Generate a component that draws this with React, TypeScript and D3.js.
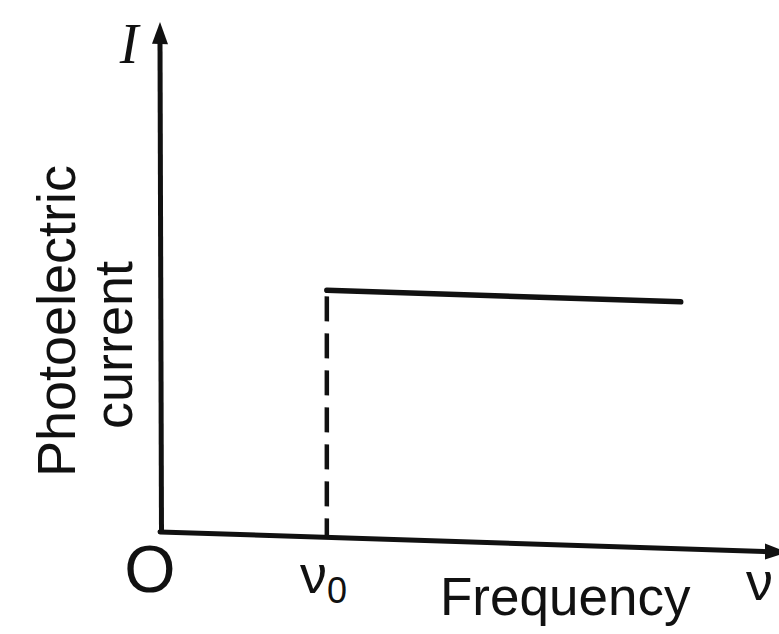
import React from "react";
import * as d3 from "d3";

// Data (arbitrary units)
const thresholdFrequency = [1.0];          // ν0
const plateauFrequency = [1.0, 3.16];      // start and end of the saturated current
const plateauCurrent = [1.0, 1.0];
const xAxisMax = [3.76];
const yAxisMax = [2.08];
const axisLabels = ["O", "ν", "Frequency", "I"];

const W = 779;
const H = 634;
const ox = 163;
const oy = 532;
const skewDeg = 1.86;

export default function App() {
  const x = d3.scaleLinear().domain([0, xAxisMax[0]]).range([0, 616]);
  const y = d3.scaleLinear().domain([0, yAxisMax[0]]).range([0, -510]);
  const yCur = d3.scaleLinear().domain([0, 1]).range([0, -247]);

  const line = d3
    .line<[number, number]>()
    .x((d) => x(d[0]))
    .y((d) => yCur(d[1]));
  const plateau = line(plateauFrequency.map((f, i) => [f, plateauCurrent[i]]));
  const nu0 = thresholdFrequency[0];
  const xEnd = x(xAxisMax[0]);
  const yTop = y(yAxisMax[0]);
  const stroke = "#111";

  return (
    <svg
      width={W}
      height={H}
      style={{ position: "absolute", left: 0, top: 0, background: "#fff" }}
      fontFamily="'Liberation Sans', Arial, sans-serif"
    >
      <rect width={W} height={H} fill="#fff" />
      <g transform={`translate(${ox},${oy}) skewY(${skewDeg})`}>
        {/* y axis */}
        <line x1={-1.5} y1={2} x2={-3} y2={yTop + 18} stroke={stroke} strokeWidth={5} />
        <path d={`M${-3},${yTop} L${-11},${yTop + 22} L${5},${yTop + 22} Z`} fill={stroke} />
        {/* x axis */}
        <line x1={-3} y1={0} x2={xEnd - 8} y2={0} stroke={stroke} strokeWidth={5} strokeLinecap="round" />
        <path d={`M${xEnd + 8},0 L${xEnd - 14},-8 L${xEnd - 14},8 Z`} fill={stroke} />
        {/* dashed threshold line */}
        <line
          x1={x(nu0)}
          y1={0}
          x2={x(nu0)}
          y2={yCur(plateauCurrent[0])}
          stroke={stroke}
          strokeWidth={4.5}
          strokeDasharray="25,12"
          strokeDashoffset={6}
        />
        {/* saturation current */}
        <path d={plateau ?? ""} fill="none" stroke={stroke} strokeWidth={5.5} strokeLinecap="round" strokeLinejoin="round" />
      </g>

      {/* labels */}
      <text x={150} y={592} fontSize={66} textAnchor="middle" fill={stroke}>
        {axisLabels[0]}
      </text>
      <text x={300} y={593} fontSize={54} fill={stroke}>
        {axisLabels[1]}
        <tspan fontSize={36} dy={10}>0</tspan>
      </text>
      <text x={440} y={615} fontSize={53} fill={stroke}>
        {axisLabels[2]}
      </text>
      <text x={746} y={600} fontSize={54} fill={stroke}>
        {axisLabels[1]}
      </text>
      <text
        x={129}
        y={63}
        fontSize={56}
        fontStyle="italic"
        fontFamily="'Liberation Serif', 'Times New Roman', serif"
        textAnchor="middle"
        fill={stroke}
      >
        {axisLabels[3]}
      </text>
      <text
        transform="translate(75,321) rotate(-90)"
        fontSize={54}
        textAnchor="middle"
        fill={stroke}
      >
        Photoelectric
      </text>
      <text
        transform="translate(132,345) rotate(-90)"
        fontSize={54}
        textAnchor="middle"
        fill={stroke}
      >
        current
      </text>
    </svg>
  );
}
